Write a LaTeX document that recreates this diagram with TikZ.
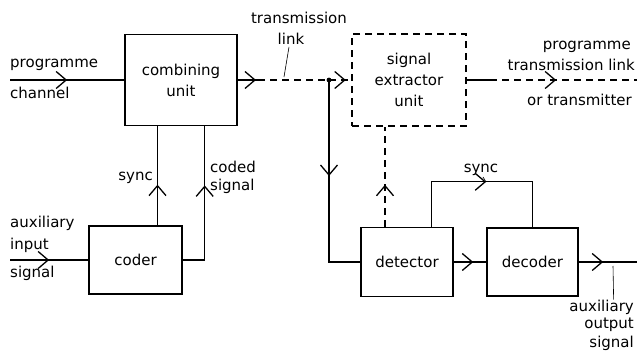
\documentclass[tikz,border=0pt]{standalone}
\usepackage{fontspec}
\setmainfont{DejaVu Sans}
\usetikzlibrary{arrows.meta,decorations.markings,calc}

\begin{document}
\begin{tikzpicture}[x=1pt,y=-1pt,
  blk/.style={draw,line width=1.4pt,inner sep=0pt,align=center,font=\fontsize{15}{21}\selectfont},
  lbl/.style={inner sep=0pt,font=\fontsize{15}{17}\selectfont},
  wire/.style={line width=1.3pt},
  dash7/.style={dash pattern=on 7pt off 5pt},
  lead/.style={line width=.6pt},
  midarr/.style={postaction={decorate},decoration={markings,mark=at position #1 with {\pgfsetdash{}{0pt}\arrow{Straight Barb[length=10pt,width=17pt,line width=1.3pt]}}}}]
\path[use as bounding box] (0,0) rectangle (637,356);
\node[blk,minimum width=112,minimum height=91] (comb) at (181,80) {combining\\unit};
\node[blk,dash7,minimum width=114,minimum height=92] (extr) at (409,80) {signal\\extractor\\unit};
\node[blk,minimum width=93,minimum height=68] (coder) at (135.5,260) {coder};
\node[blk,minimum width=92,minimum height=69] (det) at (407,262) {detector};
\node[blk,minimum width=91,minimum height=68] (dec) at (532.5,262) {decoder};
\coordinate (pin) at (10,80);
\coordinate (tx) at (258,80);
\coordinate (junc) at (329,80);
\coordinate (pout) at (637,80);
\coordinate (xo) at (490,80);
\coordinate (ain) at (10,260);
\coordinate (aout) at (637,262);
\coordinate (syncc) at ($(coder.north)+(22,0)$);
\coordinate (codc) at ($(comb.south east)+(-33,0)$);
\coordinate (detx) at ($(det.north)+(-22,0)$);
\coordinate (dets) at ($(det.north east)+(-22,0)$);
% upper chain
\draw[wire,midarr=0.5] (pin) -- (comb.west);
\draw[wire,midarr=0.9] (comb.east) -- (tx);
\draw[wire,dash7] (tx) -- (junc);
\draw[wire,dash7,midarr=0.75] (junc) -- (extr.west);
\draw[wire] (extr.east) -- (xo);
\draw[wire,dash7,midarr=0.45] (xo) -- (pout);
\fill (junc) circle[radius=2.4];
% coder side
\draw[wire,midarr=0.5] (ain) -- (coder.west);
\draw[wire,midarr=0.41] (syncc) -- (syncc |- comb.south);
\draw[wire,midarr=0.62] (coder.east) -| (codc);
% receiver side
\draw[wire,midarr=0.45] (junc) |- (det.west);
\draw[wire,dash7,midarr=0.42] (detx) -- (detx |- extr.south);
\draw[wire,midarr=0.6] (det.east) -- (dec.west);
\draw[wire,midarr=0.42] (dec.east) -- (aout);
\draw[wire,midarr=0.52] (dets) -- ++(0,-45) -| (dec.north);
% labels
\node[lbl,anchor=west] (lprog) at (10,65) {programme};
\node[lbl,anchor=west] (lchan) at (10,93) {channel};
\node[lbl] (ltrans) at (299,18) {transmission};
\node[lbl] (llink) at (291,39) {link};
\draw[lead] (llink.south) ++(-2,2) -- (284,77);
\node[lbl,anchor=east] (lsync) at (153,178) {sync};
\node[lbl,anchor=west] (lcoded) at (210,167) {coded};
\node[lbl,anchor=west] (lcsig) at (210,186) {signal};
\node[lbl,anchor=west] (laux) at (10,223) {auxiliary};
\node[lbl,anchor=west] (linp) at (10,245) {input};
\node[lbl,anchor=west] (lsig) at (10,273) {signal};
\node[lbl,anchor=east] (rprog) at (631,47) {programme};
\node[lbl,anchor=east] (rtl) at (635,65) {transmission link};
\node[lbl,anchor=east] (rtx) at (632,100) {or transmitter};
\node[lbl] (rsync) at (481,170) {sync};
\draw[lead] (rsync.south) ++(2,1) -- (486,182);
\node[lbl,anchor=east] (raux) at (634,307) {auxiliary};
\node[lbl,anchor=east] (rout) at (634,325) {output};
\node[lbl,anchor=east] (rsig) at (634,343) {signal};
\draw[lead] (raux.north) ++(12,0) -- (613,266);
\end{tikzpicture}
\end{document}
